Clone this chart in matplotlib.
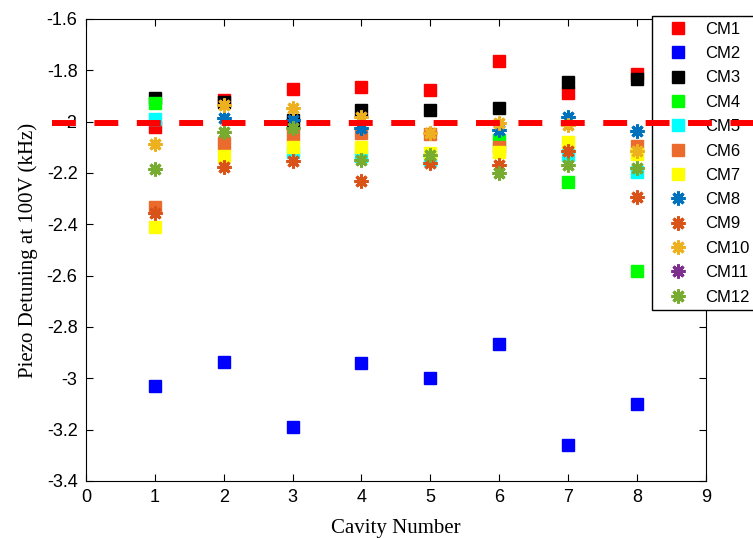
import numpy as np
import matplotlib
matplotlib.use("Agg")
import matplotlib.pyplot as plt

nan = np.nan
cavity = [1, 2, 3, 4, 5, 6, 7, 8]

CM1 = [-2.022, -1.916, -1.873, -1.866, -1.875, -1.765, -1.889, -1.815]
CM2 = [-3.029, -2.936, -3.188, -2.940, -2.999, -2.867, -3.258, -3.101]
CM3 = [-1.907, -1.923, -1.993, -1.953, -1.956, -1.947, -1.845, -1.835]
CM4 = [-1.928, nan, nan, nan, nan, -2.073, -2.234, -2.580]
CM5 = [-1.990, nan, -2.117, -2.134, -2.150, nan, -2.130, -2.195]
CM6 = [-2.331, -2.082, -2.052, -2.045, -2.050, -2.097, nan, -2.095]
CM7 = [-2.411, -2.134, -2.097, -2.097, -2.123, -2.119, -2.078, -2.126]
CM8 = [nan, -1.984, -1.995, -2.026, nan, -2.032, -1.983, -2.035]
CM9 = [-2.357, -2.178, -2.153, -2.230, -2.160, -2.169, -2.114, -2.292]
CM10 = [-2.088, -1.935, -1.948, -1.981, -2.045, -2.006, -2.013, -2.113]
CM11 = [nan] * 8
CM12 = [-2.186, -2.039, -2.026, -2.149, -2.130, -2.199, -2.169, -2.182]

series = [CM1, CM2, CM3, CM4, CM5, CM6, CM7, CM8, CM9, CM10, CM11, CM12]
names = ["CM%d" % (i + 1) for i in range(12)]
colors = ["#FF0000", "#0000FF", "#000000", "#00FF00", "#00FFFF", "#EA6B2D",
          "#FFFF00", "#0072BD", "#D95319", "#EDB120", "#7E2F8E", "#77AC30"]
target = -2.005

fig = plt.figure(figsize=(7.53, 5.38), dpi=100)
ax = fig.add_axes([0.114, 0.106, 0.8236, 0.8587])

star = (8, 2, 0)
for i, (y, c, n) in enumerate(zip(series, colors, names)):
    if i < 7:
        ax.plot(cavity, y, linestyle="none", marker="s", ms=8.5,
                color=c, markeredgecolor=c, label=n)
    else:
        ax.plot(cavity, y, linestyle="none", marker=star, ms=10,
                markeredgewidth=2.2, color=c, label=n)

ax.set_xlim(0, 9)
ax.set_ylim(-3.4, -1.6)
ax.set_xticks(range(10))
ax.set_yticks(np.arange(-3.4, -1.59, 0.2))
ax.set_yticklabels(["-3.4", "-3.2", "-3", "-2.8", "-2.6", "-2.4", "-2.2",
                    "-2", "-1.8", "-1.6"])
ax.tick_params(direction="in", length=5, top=True, right=True,
               labelsize=13, pad=6)
for lab in ax.get_xticklabels() + ax.get_yticklabels():
    lab.set_family("Liberation Sans")
ax.set_xlabel("Cavity Number", family="Liberation Serif", fontsize=15, labelpad=9)
ax.set_ylabel("Piezo Detuning at 100V (kHz)", family="Liberation Serif",
              fontsize=15, labelpad=6)

leg = ax.legend(loc="upper left", bbox_to_anchor=(652 / 753, 1 - 16 / 538),
                bbox_transform=fig.transFigure, borderaxespad=0,
                prop={"family": "Liberation Sans", "size": 12},
                fancybox=False, edgecolor="black", framealpha=1,
                labelspacing=0.56, handletextpad=0.42, borderpad=0.35,
                handlelength=2.4)
leg.get_frame().set_linewidth(1.0)
leg.set_zorder(5)

ax.plot([-0.49, 10], [target, target], color="#FF0000", lw=4.3,
        linestyle=(0, (4, 3.1)), clip_on=False, zorder=10)

fig.savefig("out.png", dpi=100)
